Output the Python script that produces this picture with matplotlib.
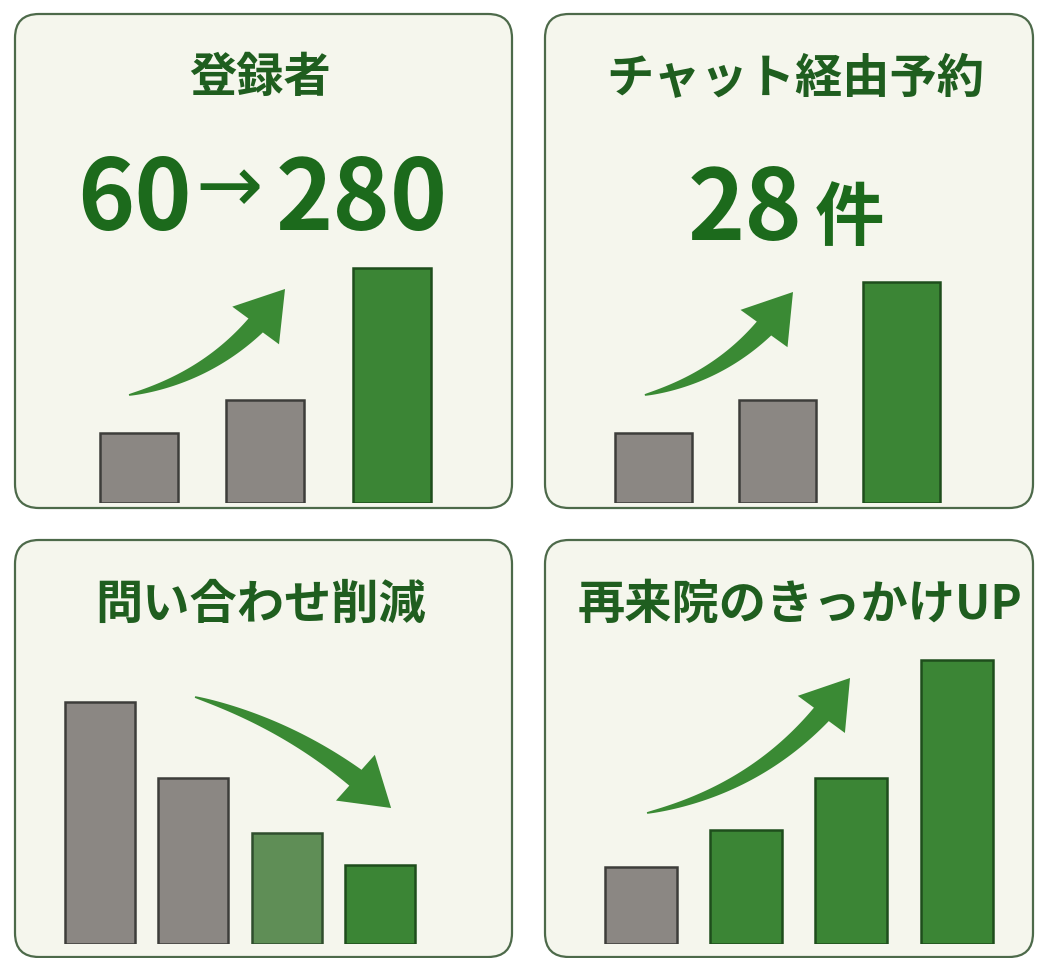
import matplotlib
matplotlib.use("Agg")
import numpy as np
import matplotlib.pyplot as plt
from matplotlib.patches import FancyBboxPatch, Polygon

plt.rcParams['font.family'] = ['Noto Sans CJK JP', 'DejaVu Sans']

# ---- data -------------------------------------------------------------
titles = ['登録者', 'チャット経由予約', '問い合わせ削減', '再来院のきっかけUP']

reg_values = [70, 103, 235]
booking_values = [70, 103, 221]
inquiry_values = [242, 166, 111, 79]
revisit_values = [77, 114, 166, 284]

reg_colors = ['gray', 'gray', 'green']
booking_colors = ['gray', 'gray', 'green']
inquiry_colors = ['gray', 'gray', 'light', 'green']
revisit_colors = ['gray', 'green', 'green', 'green']

# ---- style ------------------------------------------------------------
W, H = 1048, 958
PANEL_FILL = '#f5f6ed'
PANEL_EDGE = '#4d6a4a'
TEXT_GREEN = '#1f5e1f'
NUM_GREEN = '#1c6a1c'
ARROW_GREEN = '#3a8a34'
FILL = {'gray': '#8b8783', 'green': '#3b8535', 'light': '#5f8e56'}
EDGE = {'gray': '#3d3d3a', 'green': '#1e4d1c', 'light': '#2f4d2d'}

fig = plt.figure(figsize=(W / 100, H / 100), dpi=100)
fig.patch.set_facecolor('white')

bg = fig.add_axes([0, 0, 1, 1])
bg.set_xlim(0, W)
bg.set_ylim(H, 0)
bg.axis('off')

# panel boxes (pixels): x0, y0, x1, y1
boxes = [(15, 14, 512, 508), (545, 14, 1033, 508),
         (15, 540, 512, 957), (545, 540, 1033, 957)]
for x0, y0, x1, y1 in boxes:
    bg.add_patch(FancyBboxPatch((x0, y0), x1 - x0, y1 - y0,
                                boxstyle='round,pad=0,rounding_size=24',
                                fc=PANEL_FILL, ec=PANEL_EDGE, lw=1.6))


def bar_axes(first_center, spacing, n, base, top):
    left = first_center - spacing / 2
    width = spacing * n
    ax = fig.add_axes([left / W, (H - base) / H, width / W, (base - top) / H])
    ax.set_xlim(-0.5, n - 0.5)
    ax.set_ylim(0, base - top)
    ax.axis('off')
    ax.patch.set_alpha(0)
    return ax


def draw_bars(ax, values, kinds, width):
    x = list(range(len(values)))
    ax.bar(x, values, width=width,
           color=[FILL[k] for k in kinds],
           edgecolor=[EDGE[k] for k in kinds], linewidth=1.8)


def trend_arrow(ax, start, end, rad, tail_w=20, head_w=60, head_len=47):
    # curved arrow whose tail widens from a point toward the head
    p0 = ax.transData.transform(start)
    p2 = ax.transData.transform(end)
    d = p2 - p0
    c = (p0 + p2) / 2 + rad * np.array([d[1], -d[0]])
    t = np.linspace(0, 1, 300)[:, None]
    curve = (1 - t) ** 2 * p0 + 2 * (1 - t) * t * c + t ** 2 * p2
    dist = np.hypot(*(curve - p2).T)
    k = int(np.argmax(dist < head_len))
    body = curve[:k + 1]
    tang = np.gradient(body, axis=0)
    tang /= np.hypot(*tang.T)[:, None]
    norm = np.stack([-tang[:, 1], tang[:, 0]], axis=1)
    s = np.linspace(0, 1, len(body))
    w = tail_w / 2 * (0.08 + 0.92 * s ** 0.8)
    left = body + norm * w[:, None]
    right = body - norm * w[:, None]
    base = body[-1]
    hd = (p2 - base) / np.hypot(*(p2 - base))
    hn = np.array([-hd[1], hd[0]])
    pts = np.vstack([left, base + hn * head_w / 2, p2,
                     base - hn * head_w / 2, right[::-1]])
    pts = bg.transData.inverted().transform(pts)
    bg.add_patch(Polygon(pts, closed=True, fc=ARROW_GREEN, ec='none',
                         zorder=3))


# panel 1
ax1 = bar_axes(138.5, 126.75, 3, 503, 14)
draw_bars(ax1, reg_values, reg_colors, 78 / 126.75)
trend_arrow(ax1, (-0.075, 108), (1.156, 214), 0.2)

# panel 2
ax2 = bar_axes(653.5, 124, 3, 503, 14)
draw_bars(ax2, booking_values, booking_colors, 77 / 124)
trend_arrow(ax2, (-0.07, 108), (1.125, 211), 0.2)

# panel 3
ax3 = bar_axes(100, 93.3, 4, 944, 540)
draw_bars(ax3, inquiry_values, inquiry_colors, 70 / 93.3)
trend_arrow(ax3, (1.018, 247), (3.12, 136), -0.12)

# panel 4
ax4 = bar_axes(641, 105.2, 4, 944, 540)
draw_bars(ax4, revisit_values, revisit_colors, 72 / 105.2)
trend_arrow(ax4, (0.057, 131), (1.987, 266), 0.2)

# titles
title_pos = [(260, 78), (795, 79), (261, 605), (800, 605)]
for t, (x, y) in zip(titles, title_pos):
    bg.text(x, y, t, ha='center', va='center', fontsize=34,
            fontweight='bold', color=TEXT_GREEN)

# headline numbers
bg.text(77, 230, '60', ha='left', va='baseline', fontsize=70,
        fontweight='bold', color=NUM_GREEN)
bg.text(229, 190, '→', ha='center', va='center', fontsize=58,
        color=NUM_GREEN, family=['DejaVu Sans'])
bg.text(276, 230, '280', ha='left', va='baseline', fontsize=70,
        fontweight='bold', color=NUM_GREEN)
bg.text(688, 240, '28', ha='left', va='baseline', fontsize=70,
        fontweight='bold', color=NUM_GREEN)
bg.text(815, 240, '件', ha='left', va='baseline', fontsize=50,
        fontweight='bold', color=NUM_GREEN)

fig.savefig('out.png', dpi=100, facecolor=fig.get_facecolor())
